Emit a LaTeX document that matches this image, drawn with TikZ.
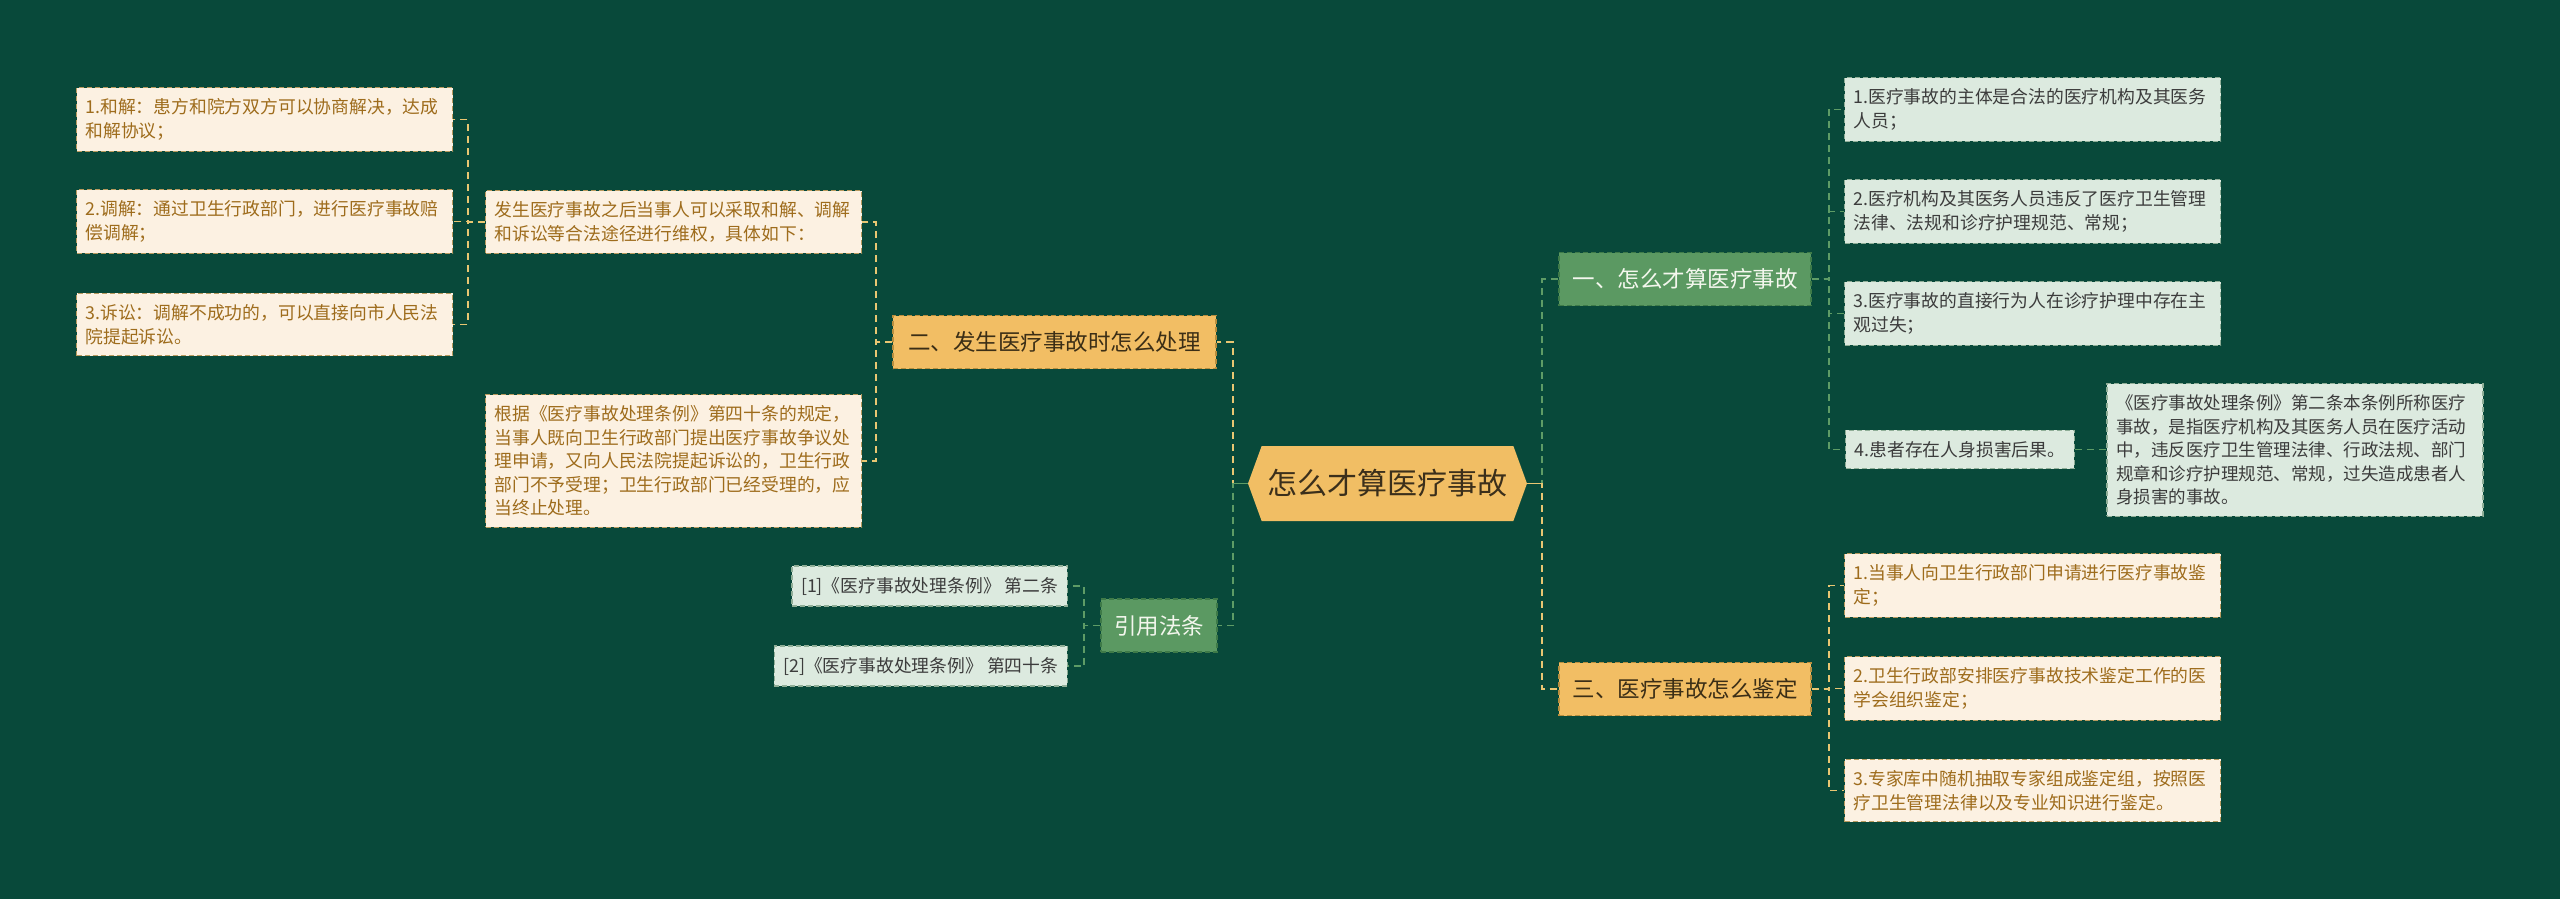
\documentclass[tikz,border=0pt]{standalone}
\usepackage{fontspec}
\newfontfamily\cjk{Noto Sans CJK SC}
\usetikzlibrary{shapes.symbols}

\definecolor{bgdeep}{HTML}{08493A}
\definecolor{rootgold}{HTML}{F1BE64}
\definecolor{rootink}{HTML}{3B2F1B}
\definecolor{goldfill}{HTML}{F2BE64}
\definecolor{goldedge}{HTML}{B88E3E}
\definecolor{goldink}{HTML}{3B2E16}
\definecolor{greenfill}{HTML}{5B9962}
\definecolor{greenedge}{HTML}{3E7A48}
\definecolor{greenink}{HTML}{F4F7EE}
\definecolor{creamfill}{HTML}{FCF1E2}
\definecolor{creamedge}{HTML}{B89A5E}
\definecolor{creamink}{HTML}{9E6C1C}
\definecolor{mintfill}{HTML}{DCEADF}
\definecolor{mintedge}{HTML}{8FAE97}
\definecolor{mintink}{HTML}{3C3C3C}
\definecolor{linkgold}{HTML}{E9C672}
\definecolor{linkgreen}{HTML}{5E9C66}

\tikzset{
  rootbox/.style={signal, signal to=west and east, signal pointer angle=140,
    fill=rootgold, text=rootink, font=\cjk\fontsize{30}{36}\selectfont,
    minimum width=279pt, minimum height=75pt, inner sep=0pt},
  headbox/.style={font=\cjk\fontsize{22.5}{27}\selectfont, inner xsep=12pt,
    minimum height=53pt, line width=1.4pt, dash pattern=on 5pt off 3pt},
  goldbox/.style={headbox, fill=goldfill, draw=goldedge, text=goldink},
  greenbox/.style={headbox, fill=greenfill, draw=greenedge, text=greenink},
  leafbox/.style={font=\cjk\fontsize{17.8}{23.5}\selectfont, align=left,
    inner xsep=9pt, inner ysep=11pt, line width=1.3pt, dash pattern=on 5pt off 3pt},
  wide/.style={text width=358pt},
  creamleaf/.style={leafbox, fill=creamfill, draw=creamedge, text=creamink},
  mintleaf/.style={leafbox, fill=mintfill, draw=mintedge, text=mintink},
  goldlink/.style={draw=linkgold, line width=1.7pt, dash pattern=on 7pt off 5pt},
  greenlink/.style={draw=linkgreen, line width=1.7pt, dash pattern=on 7pt off 5pt}
}

\begin{document}
\begin{tikzpicture}[x=1pt,y=-1pt]
\fill[bgdeep] (0,0) rectangle (2560,899);

% centre and first level
\node[rootbox] (root) at (1387.5,483.5) {怎么才算医疗事故};
\node[greenbox, minimum width=252pt] (q1) at (1685,279) {一、怎么才算医疗事故};
\node[goldbox, minimum width=323pt] (q2) at (1054.5,342) {二、发生医疗事故时怎么处理};
\node[goldbox, minimum width=252pt] (q3) at (1685,689) {三、医疗事故怎么鉴定};
\node[greenbox, minimum width=116pt] (laws) at (1159,625.5) {引用法条};

% what counts as an accident
\node[mintleaf, wide] (q1a) at (2032.5,109.5) {1.医疗事故的主体是合法的医疗机构及其医务\\人员；};
\node[mintleaf, wide] (q1b) at (2032.5,211.5) {2.医疗机构及其医务人员违反了医疗卫生管理\\法律、法规和诊疗护理规范、常规；};
\node[mintleaf, wide] (q1c) at (2032.5,313.5) {3.医疗事故的直接行为人在诊疗护理中存在主\\观过失；};
\node[mintleaf] (q1d) at (1960,449.5) {4.患者存在人身损害后果。};
\node[mintleaf, wide, font=\cjk\fontsize{17.5}{23.5}\selectfont] (q1d1) at (2295,450)
  {《医疗事故处理条例》第二条本条例所称医疗\\事故，是指医疗机构及其医务人员在医疗活动\\中，违反医疗卫生管理法律、行政法规、部门\\规章和诊疗护理规范、常规，过失造成患者人\\身损害的事故。};

% what to do
\node[creamleaf, wide] (q2a) at (673.5,222) {发生医疗事故之后当事人可以采取和解、调解\\和诉讼等合法途径进行维权，具体如下：};
\node[creamleaf, wide] (q2b) at (673.5,461) {根据《医疗事故处理条例》第四十条的规定，\\当事人既向卫生行政部门提出医疗事故争议处\\理申请，又向人民法院提起诉讼的，卫生行政\\部门不予受理；卫生行政部门已经受理的，应\\当终止处理。};
\node[creamleaf, wide] (q2a1) at (264.5,119.5) {1.和解：患方和院方双方可以协商解决，达成\\和解协议；};
\node[creamleaf, wide] (q2a2) at (264.5,221.5) {2.调解：通过卫生行政部门，进行医疗事故赔\\偿调解；};
\node[creamleaf, wide] (q2a3) at (264.5,324.5) {3.诉讼：调解不成功的，可以直接向市人民法\\院提起诉讼。};

% appraisal
\node[creamleaf, wide] (q3a) at (2032.5,585.5) {1.当事人向卫生行政部门申请进行医疗事故鉴\\定；};
\node[creamleaf, wide] (q3b) at (2032.5,688.5) {2.卫生行政部安排医疗事故技术鉴定工作的医\\学会组织鉴定；};
\node[creamleaf, wide] (q3c) at (2032.5,790.5) {3.专家库中随机抽取专家组成鉴定组，按照医\\疗卫生管理法律以及专业知识进行鉴定。};

% cited articles
\node[mintleaf, anchor=east] (law1) at (1068,586) {[1]《医疗事故处理条例》 第二条};
\node[mintleaf, anchor=east] (law2) at (1068,666) {[2]《医疗事故处理条例》 第四十条};

% links from the centre
\draw[greenlink] (root.east) -- ++(15,0) |- (q1.west);
\draw[goldlink] (root.east) -- ++(15,0) |- (q3.west);
\draw[goldlink] (root.west) -- ++(-15,0) |- (q2.east);
\draw[greenlink] (root.west) -- ++(-15,0) |- (laws.east);
\draw[greenlink, solid] (root.west) -- ++(-15,0);
\draw[goldlink, solid] (root.east) -- ++(15,0);

% links on the right
\draw[greenlink] (q1.east) -- ++(17,0) |- (q1a.west);
\draw[greenlink] (q1.east) -- ++(17,0) |- (q1b.west);
\draw[greenlink] (q1.east) -- ++(17,0) |- (q1c.west);
\draw[greenlink] (q1.east) -- ++(17,0) |- (q1d.west);
\draw[greenlink] (q1d.east) -- (q1d1.west |- q1d.east);
\draw[goldlink] (q3.east) -- ++(17,0) |- (q3a.west);
\draw[goldlink] (q3.east) -- ++(17,0) |- (q3b.west);
\draw[goldlink] (q3.east) -- ++(17,0) |- (q3c.west);

% links on the left
\draw[goldlink] (q2.west) -- ++(-16,0) |- (q2a.east);
\draw[goldlink] (q2.west) -- ++(-16,0) |- (q2b.east);
\draw[goldlink] (q2a.west) -- ++(-17,0) |- (q2a1.east);
\draw[goldlink] (q2a.west) -- ++(-17,0) |- (q2a2.east);
\draw[goldlink] (q2a.west) -- ++(-17,0) |- (q2a3.east);
\draw[greenlink] (laws.west) -- ++(-16,0) |- (law1.east);
\draw[greenlink] (laws.west) -- ++(-16,0) |- (law2.east);
\end{tikzpicture}
\end{document}
